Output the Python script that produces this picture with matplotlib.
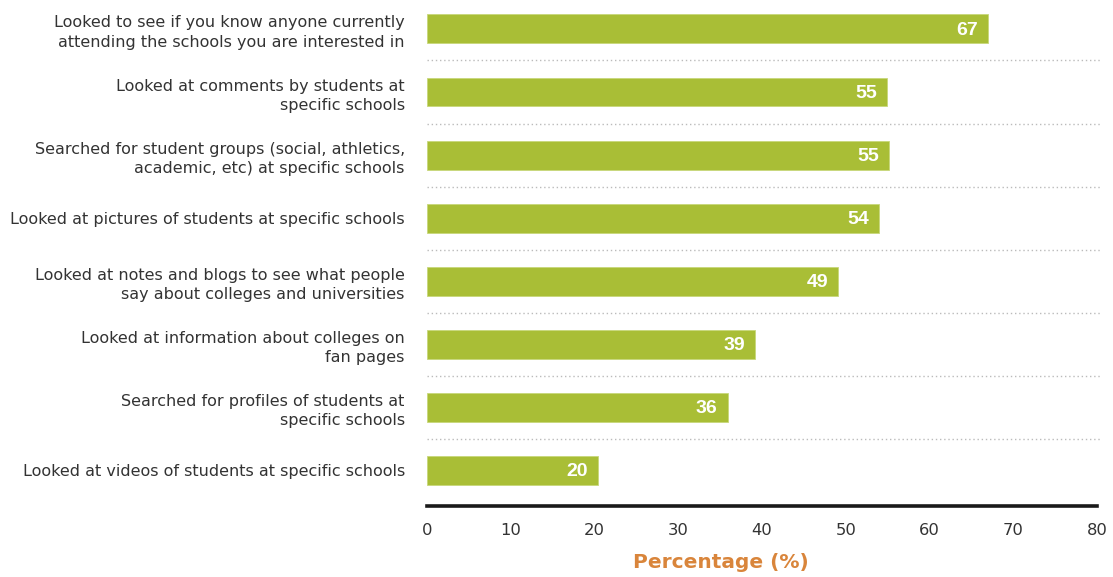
import matplotlib
matplotlib.use("Agg")
import matplotlib.pyplot as plt

categories = [
    "Looked to see if you know anyone currently\nattending the schools you are interested in",
    "Looked at comments by students at\nspecific schools",
    "Searched for student groups (social, athletics,\nacademic, etc) at specific schools",
    "Looked at pictures of students at specific schools",
    "Looked at notes and blogs to see what people\nsay about colleges and universities",
    "Looked at information about colleges on\nfan pages",
    "Searched for profiles of students at\nspecific schools",
    "Looked at videos of students at specific schools",
]
values = [67.0, 54.9, 55.2, 54.0, 49.1, 39.2, 35.9, 20.4]
value_labels = ["67", "55", "55", "54", "49", "39", "36", "20"]
xticks = [0, 10, 20, 30, 40, 50, 60, 70, 80]

plt.rcParams['font.family'] = ['DejaVu Sans']

fig = plt.figure(figsize=(11.13, 5.77), dpi=100)
ax = fig.add_axes([427/1113, 1 - 506/577, 670/1113, 506/577])

y = list(range(len(categories)))
bar_color = "#A9BE36"
ax.barh(y, values, height=0.46, color=bar_color, edgecolor="#C8D77A", linewidth=0.6)

for yi, v, lab in zip(y, values, value_labels):
    ax.text(v - 1.2, yi + 0.02, lab, ha="right", va="center", color="white",
            fontsize=14, fontweight="bold", family=["Liberation Sans", "DejaVu Sans"])

for i in range(len(categories) - 1):
    ax.plot([0, 80.5], [i + 0.5, i + 0.5], color="#BBBBBB", lw=1.0,
            linestyle=(0, (1, 2)), clip_on=False)

ax.set_xlim(0, 80)
ax.set_ylim(7.57, -0.46)
ax.set_xticks(xticks)
ax.set_xticklabels([str(t) for t in xticks], fontsize=11.8, color="#333333")
ax.set_yticks(y)
ax.set_yticklabels(categories, fontsize=11.5, color="#333333", linespacing=1.35)
ax.tick_params(axis="both", length=0)
ax.tick_params(axis="x", pad=12)
ax.tick_params(axis="y", pad=16)

for s in ["top", "right", "left"]:
    ax.spines[s].set_visible(False)
ax.spines["bottom"].set_linewidth(2.6)
ax.spines["bottom"].set_color("#1a1a1a")

fig.text(721/1113, 1 - 563/577, "Percentage (%)", ha="center", va="center",
         fontsize=14.5, fontweight="bold", color="#D9853B")

fig.savefig("out.png", dpi=100)
